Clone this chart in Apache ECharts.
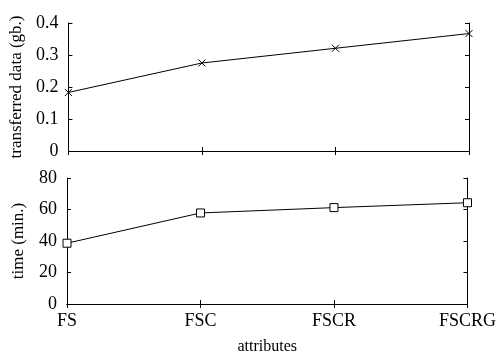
<!DOCTYPE html>
<html>
<head>
<meta charset="utf-8">
<script src="https://cdn.jsdelivr.net/npm/echarts@6/dist/echarts.min.js"></script>
<style>
  html, body { margin: 0; padding: 0; background: #fff; }
  #chart { width: 499px; height: 356px; }
</style>
</head>
<body>
<div id="chart"></div>
<script>
const categories = ['FS', 'FSC', 'FSCR', 'FSCRG']
const transferred = [0.183, 0.275, 0.321, 0.367]
const timeMin = [38.6, 57.8, 61.2, 64.3]

const font = 'Liberation Serif'
const black = '#000'

// x axis helper (bottom with labels or mirror without)
function xAx(gridIndex, position, showLabel, name) {
  return {
    type: 'category',
    gridIndex: gridIndex,
    position: position,
    data: categories,
    boundaryGap: false,
    name: name || '',
    nameLocation: 'middle',
    nameGap: 35,
    nameTextStyle: { fontFamily: font, fontSize: 16, color: black },
    axisLine: { show: true, lineStyle: { color: black, width: 1 } },
    axisTick: { show: true, inside: true, length: 4, lineStyle: { color: black } },
    axisLabel: { show: showLabel, margin: 8, fontFamily: font, fontSize: 18, color: black },
    splitLine: { show: false }
  }
}

function yAx(gridIndex, position, max, interval, showLabel, name) {
  return {
    type: 'value',
    gridIndex: gridIndex,
    position: position,
    min: 0,
    max: max,
    interval: interval,
    name: name || '',
    nameLocation: 'middle',
    nameGap: 40,
    nameRotate: 90,
    nameTextStyle: { fontFamily: font, fontSize: 17, color: black },
    axisLine: { show: true, lineStyle: { color: black, width: 1 } },
    axisTick: { show: true, inside: true, length: 4, lineStyle: { color: black } },
    axisLabel: { show: showLabel, margin: 10, fontFamily: font, fontSize: 18, color: black },
    splitLine: { show: false }
  }
}

const chart = echarts.init(document.getElementById('chart'))
chart.setOption({
  animation: false,
  backgroundColor: '#fff',
  grid: [
    { left: 67, right: 30, top: 23, height: 128 },
    { left: 67, right: 30, top: 178, height: 128 }
  ],
  xAxis: [
    xAx(0, 'bottom', false),
    xAx(0, 'top', false),
    xAx(1, 'bottom', true, 'attributes'),
    xAx(1, 'top', false)
  ],
  yAxis: [
    yAx(0, 'left', 0.4, 0.1, true, 'transferred data (gb.)'),
    yAx(0, 'right', 0.4, 0.1, false),
    yAx(1, 'left', 80, 20, true, 'time (min.)'),
    yAx(1, 'right', 80, 20, false)
  ],
  series: [
    {
      type: 'line',
      xAxisIndex: 0,
      yAxisIndex: 0,
      data: transferred,
      symbol: 'path://M0,0L10,10M10,0L0,10',
      symbolSize: 7,
      lineStyle: { color: black, width: 1 },
      itemStyle: { color: 'transparent', borderColor: black, borderWidth: 1 }
    },
    {
      type: 'line',
      xAxisIndex: 2,
      yAxisIndex: 2,
      data: timeMin,
      symbol: 'path://M0,0L10,0L10,10L0,10Z',
      symbolSize: 8,
      lineStyle: { color: black, width: 1 },
      itemStyle: { color: '#fff', borderColor: black, borderWidth: 1 }
    }
  ]
})
</script>
</body>
</html>
